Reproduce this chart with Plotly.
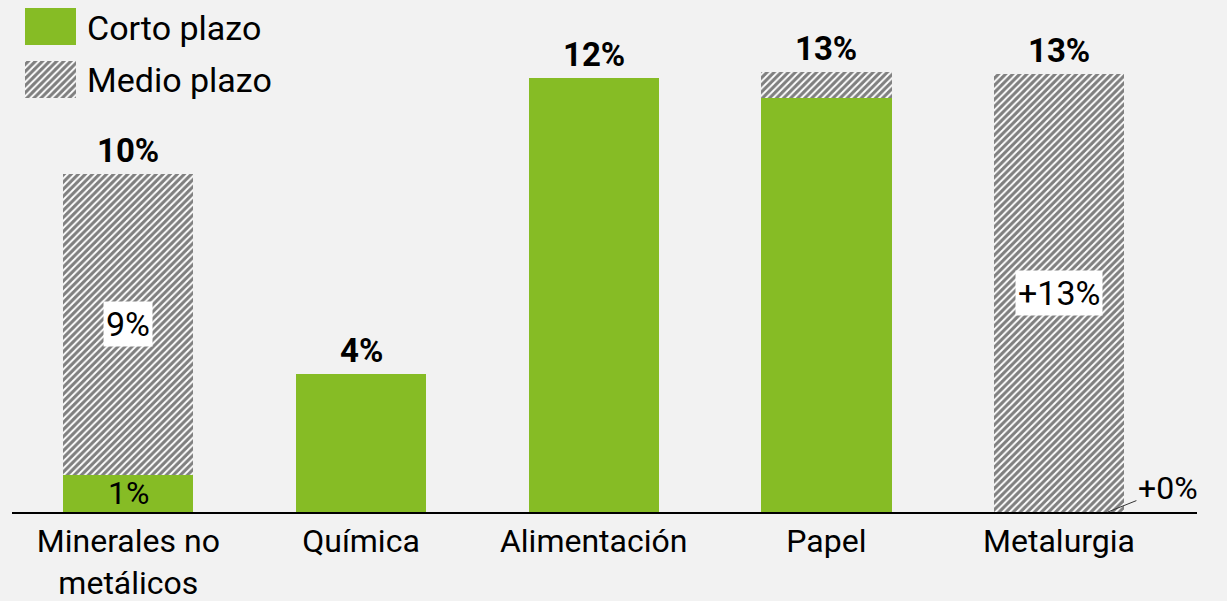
import plotly.graph_objects as go

# Sector categories and the two horizons (percent)
categories = ["Minerales no<br>metálicos", "Química", "Alimentación", "Papel", "Metalurgia"]
corto_plazo = [1.06, 3.94, 12.40, 11.83, 0.0]
medio_plazo = [8.60, 0.0, 0.0, 0.74, 12.51]
series_names = ["Corto plazo", "Medio plazo"]

# Format of the labels inside each segment (None = no label)
corto_fmt = ["{:.0f}%", None, None, None, "+{:.0f}%"]
medio_fmt = ["{:.0f}%", None, None, None, "+{:.0f}%"]

GREEN = "#86bc25"
BG = "#f2f2f2"
FONT = "Roboto, Arial, sans-serif"
BAR_W = 0.56
FS = 34

hatch = dict(shape="/", fgcolor="black", bgcolor="white", size=5, solidity=0.62)

x = list(range(len(categories)))
fig = go.Figure()

fig.add_trace(go.Bar(
    x=x, y=corto_plazo, name=series_names[0], width=BAR_W,
    marker=dict(color=GREEN, line=dict(width=0)), showlegend=False,
))
fig.add_trace(go.Bar(
    x=x, y=medio_plazo, name=series_names[1], width=BAR_W,
    marker=dict(color="white", pattern=hatch, line=dict(width=0)), showlegend=False,
))

# Legend swatches drawn as bars on a small inset axis
fig.add_trace(go.Bar(
    x=[1], y=[1], orientation="h", width=0.69, xaxis="x2", yaxis="y2",
    marker=dict(color=GREEN, line=dict(width=0)), showlegend=False, hoverinfo="skip",
))
fig.add_trace(go.Bar(
    x=[1], y=[0], orientation="h", width=0.69, xaxis="x2", yaxis="y2",
    marker=dict(color="white", pattern=hatch, line=dict(width=0)), showlegend=False, hoverinfo="skip",
))

annotations = []
# Totals above each bar
for i, (c, m) in enumerate(zip(corto_plazo, medio_plazo)):
    total = c + m
    annotations.append(dict(
        x=i, y=total, text=f"<b>{total:.0f}%</b>", showarrow=False,
        yanchor="bottom", yshift=2, font=dict(size=FS - 1, color="black", family=FONT),
    ))

# Segment labels
for i, (c, m) in enumerate(zip(corto_plazo, medio_plazo)):
    if medio_fmt[i] and m > 0:
        annotations.append(dict(
            x=i, y=c + m / 2, text=medio_fmt[i].format(m), showarrow=False,
            bgcolor="white", borderpad=2,
            font=dict(size=FS, color="black", family=FONT),
        ))
    if corto_fmt[i]:
        if c > 0:
            annotations.append(dict(
                x=i, y=c / 2, text=corto_fmt[i].format(c), showarrow=False,
                font=dict(size=FS - 2, color="black", family=FONT),
            ))
        else:
            annotations.append(dict(
                x=i + 0.21, y=c, text=corto_fmt[i].format(c), showarrow=True,
                arrowhead=0, arrowwidth=1, arrowcolor="#333", ax=60, ay=-24,
                font=dict(size=FS - 2, color="black", family=FONT),
            ))

# Legend texts
for name, yy in zip(series_names, [0.945, 0.844]):
    annotations.append(dict(
        xref="paper", yref="paper", x=0.0615, y=yy, text=name, showarrow=False,
        xanchor="left", yanchor="middle", font=dict(size=FS, color="black", family=FONT),
    ))

fig.update_layout(
    width=1227, height=601, autosize=False,
    paper_bgcolor=BG, plot_bgcolor=BG,
    margin=dict(l=12, r=30, t=0, b=89, autoexpand=False),
    barmode="stack", bargap=0,
    font=dict(family=FONT, color="black"),
    xaxis=dict(
        range=[-0.5, 4.593], tickvals=x, ticktext=categories, automargin=False,
        showline=True, linecolor="black", linewidth=1.5,
        showgrid=False, zeroline=False, ticks="", ticklabelstandoff=0,
        tickfont=dict(size=FS - 2, color="black", family=FONT),
    ),
    yaxis=dict(range=[0, 14.63], visible=False, showgrid=False, zeroline=False),
    xaxis2=dict(domain=[0.011, 0.054], range=[0, 1], visible=False, anchor="y2"),
    yaxis2=dict(domain=[0.8086, 0.9844], range=[-0.345, 1.345], visible=False, anchor="x2"),
    annotations=annotations,
)

fig.write_html("out.html")
